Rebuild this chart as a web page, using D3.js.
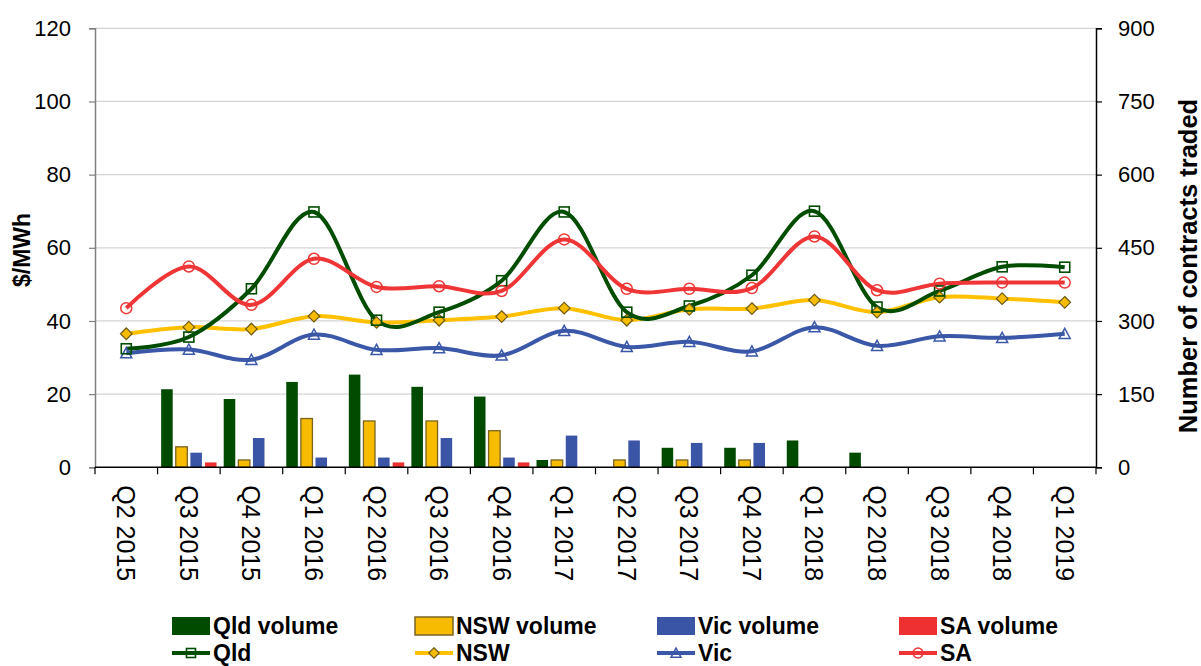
<!DOCTYPE html>
<html>
<head>
<meta charset="utf-8">
<script src="https://cdn.jsdelivr.net/npm/d3@7"></script>
<style>
  html, body { margin: 0; padding: 0; background: #fff; }
  svg { display: block; font-family: "Liberation Sans", Arial, sans-serif; }
</style>
</head>
<body>
<svg id="chart" width="1201" height="666"></svg>
<script>
// Quarterly contract prices ($/MWh) and traded volumes (number of contracts)
const categories = ["Q2 2015","Q3 2015","Q4 2015","Q1 2016","Q2 2016","Q3 2016","Q4 2016","Q1 2017",
                    "Q2 2017","Q3 2017","Q4 2017","Q1 2018","Q2 2018","Q3 2018","Q4 2018","Q1 2019"];

const qldVolume = [0, 160, 140, 175, 190, 165, 145, 15, 0, 40, 40, 55, 30, 0, 0, 0];
const nswVolume = [0, 42, 15, 100, 95, 95, 75, 15, 15, 15, 15, 0, 0, 0, 0, 0];
const vicVolume = [0, 30, 60, 20, 20, 60, 20, 65, 55, 50, 50, 0, 0, 0, 0, 0];
const saVolume  = [0, 10, 0, 0, 10, 0, 10, 0, 0, 0, 0, 0, 0, 0, 0, 0];

const qldPrice = [32.4, 35.6, 48.8, 69.8, 40.2, 42.4, 51.0, 69.8, 42.4, 44.1, 52.5, 70.0, 43.8, 48.2, 54.8, 54.7];
const nswPrice = [36.5, 38.3, 37.8, 41.3, 39.6, 40.2, 41.2, 43.5, 40.2, 43.2, 43.4, 45.7, 42.4, 46.5, 46.1, 45.1];
const vicPrice = [31.2, 32.2, 29.4, 36.3, 32.1, 32.6, 30.6, 37.3, 32.9, 34.3, 31.7, 38.3, 33.2, 35.8, 35.4, 36.5];
const saPrice  = [43.5, 54.9, 44.4, 57.0, 49.3, 49.5, 48.2, 62.3, 48.8, 48.8, 49.0, 63.1, 48.4, 50.2, 50.5, 50.5];

const priceTicks  = [0, 20, 40, 60, 80, 100, 120];
const volumeTicks = [0, 150, 300, 450, 600, 750, 900];

const volumeSeries = [
  { name: "Qld volume", values: qldVolume, fill: "#004b00", stroke: "none" },
  { name: "NSW volume", values: nswVolume, fill: "#f7bc00", stroke: "#7a6422" },
  { name: "Vic volume", values: vicVolume, fill: "#3b55a6", stroke: "none" },
  { name: "SA volume",  values: saVolume,  fill: "#ee3030", stroke: "none" }
];
const priceSeries = [
  { name: "Qld", values: qldPrice, color: "#004d00", marker: "square" },
  { name: "NSW", values: nswPrice, color: "#ffc000", marker: "diamond" },
  { name: "Vic", values: vicPrice, color: "#3a57a8", marker: "triangle" },
  { name: "SA",  values: saPrice,  color: "#ef3535", marker: "circle" }
];

const svg = d3.select("#chart");
const plotLeft = 95, plotRight = 1096, plotTop = 28.3, plotBottom = 467.3;

const x = d3.scaleBand().domain(categories).range([plotLeft, plotRight]);
const xInner = d3.scaleBand().domain(d3.range(4)).range([0, x.bandwidth()])
  .paddingInner(0.21).paddingOuter(0.245);
const yPrice = d3.scaleLinear().domain([0, 120]).range([plotBottom, plotTop]);
const yVolume = d3.scaleLinear().domain([0, 900]).range([plotBottom, plotTop]);

// gridlines
svg.append("g").selectAll("line")
  .data(priceTicks.filter(d => d > 0))
  .join("line")
  .attr("x1", plotLeft).attr("x2", plotRight)
  .attr("y1", d => yPrice(d)).attr("y2", d => yPrice(d))
  .attr("stroke", "#d4d4d4").attr("stroke-width", 1.3);

// left axis
const gLeft = svg.append("g").attr("transform", `translate(${plotLeft},0)`)
  .call(d3.axisLeft(yPrice).tickValues(priceTicks).tickSize(6).tickPadding(18).tickFormat(d3.format("d")));
gLeft.select(".domain").attr("stroke", "#808080").attr("stroke-width", 1.5);
gLeft.selectAll(".tick line").attr("stroke", "#808080").attr("stroke-width", 1.2);
gLeft.selectAll(".tick text").attr("font-size", 22).attr("fill", "#000")
  .attr("font-family", "'Liberation Sans', Arial, sans-serif");

// right axis
const gRight = svg.append("g").attr("transform", `translate(${plotRight},0)`)
  .call(d3.axisRight(yVolume).tickValues(volumeTicks).tickSize(6).tickPadding(16).tickFormat(d3.format("d")));
gRight.select(".domain").attr("stroke", "#000").attr("stroke-width", 1.5);
gRight.selectAll(".tick line").attr("stroke", "#000").attr("stroke-width", 1.2);
gRight.selectAll(".tick text").attr("font-size", 22).attr("fill", "#000")
  .attr("font-family", "'Liberation Sans', Arial, sans-serif");

// volume bars
volumeSeries.forEach((s, si) => {
  svg.append("g").selectAll("rect")
    .data(s.values.map((v, i) => ({ c: categories[i], v })).filter(d => d.v > 0))
    .join("rect")
    .attr("x", d => x(d.c) + xInner(si))
    .attr("width", xInner.bandwidth())
    .attr("y", d => yVolume(d.v))
    .attr("height", d => yVolume(0) - yVolume(d.v))
    .attr("fill", s.fill)
    .attr("stroke", s.stroke)
    .attr("stroke-width", s.stroke === "none" ? 0 : 1.3);
});

// x axis
const gBottom = svg.append("g").attr("transform", `translate(0,${plotBottom})`);
gBottom.append("line").attr("x1", plotLeft).attr("x2", plotRight).attr("stroke", "#000").attr("stroke-width", 1.5);
const boundaries = categories.map(c => x(c)).concat([plotRight]);
gBottom.selectAll("line.tick").data(boundaries).join("line").attr("class", "tick")
  .attr("x1", d => d).attr("x2", d => d).attr("y1", 0).attr("y2", 7)
  .attr("stroke", "#000").attr("stroke-width", 1.2);
gBottom.selectAll("text").data(categories).join("text")
  .attr("transform", d => `translate(${x(d) + x.bandwidth() / 2},18) rotate(90)`)
  .attr("dominant-baseline", "central")
  .attr("font-size", 25).attr("fill", "#000")
  .text(d => d);

// marker shapes
function drawMarker(g, type, color, size) {
  const s = size;
  if (type === "square") {
    g.append("rect").attr("x", -s / 2).attr("y", -s / 2).attr("width", s).attr("height", s)
      .attr("fill", "none").attr("stroke", color).attr("stroke-width", 1.6);
  } else if (type === "diamond") {
    const h = s * 0.58;
    g.append("path").attr("d", `M0,${-h}L${h},0L0,${h}L${-h},0Z`)
      .attr("fill", "#f7bc00").attr("stroke", "#6e5a14").attr("stroke-width", 1.2);
  } else if (type === "triangle") {
    const h = s * 0.55;
    g.append("path").attr("d", `M0,${-h}L${h},${h * 0.85}L${-h},${h * 0.85}Z`)
      .attr("fill", "none").attr("stroke", color).attr("stroke-width", 1.5);
  } else if (type === "circle") {
    g.append("circle").attr("r", s * 0.55)
      .attr("fill", "none").attr("stroke", color).attr("stroke-width", 1.5);
  }
}

// price lines
const line = d3.line()
  .x((d, i) => x(categories[i]) + x.bandwidth() / 2)
  .y(d => yPrice(d))
  .curve(d3.curveCardinal.tension(0));

const drawOrder = [2, 1, 0, 3];
drawOrder.forEach(si => {
  const s = priceSeries[si];
  svg.append("path").datum(s.values)
    .attr("d", line)
    .attr("fill", "none")
    .attr("stroke", s.color)
    .attr("stroke-width", 4);
});
drawOrder.forEach(si => {
  const s = priceSeries[si];
  s.values.forEach((v, i) => {
    const g = svg.append("g")
      .attr("transform", `translate(${x(categories[i]) + x.bandwidth() / 2},${yPrice(v)})`);
    drawMarker(g, s.marker, s.color, 10);
  });
});

// axis titles
svg.append("text")
  .attr("transform", `translate(22,250) rotate(-90)`)
  .attr("text-anchor", "middle").attr("dominant-baseline", "central")
  .attr("font-size", 23).attr("font-weight", "bold").text("$/MWh");
svg.append("text")
  .attr("transform", `translate(1188,266) rotate(-90)`)
  .attr("text-anchor", "middle").attr("dominant-baseline", "central")
  .attr("font-size", 25.5).attr("font-weight", "bold").text("Number of contracts traded");

// legend
const legendX = [172, 415, 657, 899];
const legend = svg.append("g");
volumeSeries.forEach((s, i) => {
  const g = legend.append("g").attr("transform", `translate(${legendX[i]},626)`);
  g.append("rect").attr("x", 0).attr("y", -9).attr("width", 38).attr("height", 18)
    .attr("fill", s.fill).attr("stroke", s.stroke).attr("stroke-width", s.stroke === "none" ? 0 : 1.5);
  g.append("text").attr("x", 41).attr("dominant-baseline", "central")
    .attr("font-size", 23).attr("font-weight", "bold").text(s.name);
});
priceSeries.forEach((s, i) => {
  const g = legend.append("g").attr("transform", `translate(${legendX[i]},653)`);
  g.append("line").attr("x1", 0).attr("x2", 38).attr("stroke", s.color).attr("stroke-width", 4);
  const m = g.append("g").attr("transform", "translate(19,0)");
  drawMarker(m, s.marker, s.color, 9);
  g.append("text").attr("x", 41).attr("dominant-baseline", "central")
    .attr("font-size", 23).attr("font-weight", "bold").text(s.name);
});
</script>
</body>
</html>
